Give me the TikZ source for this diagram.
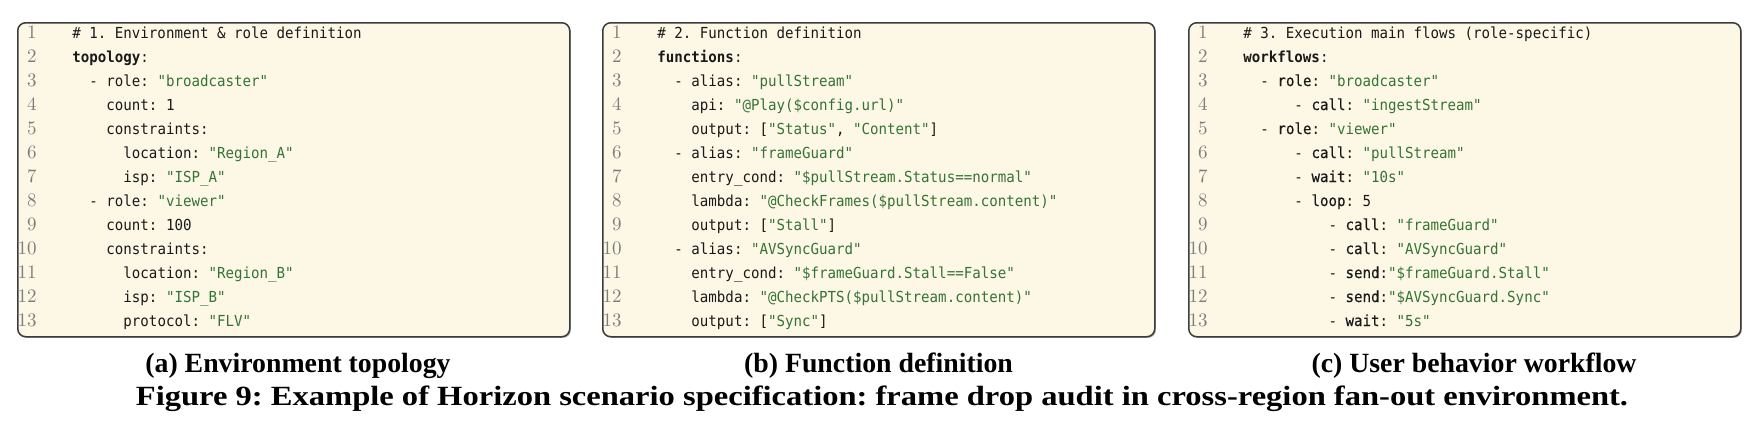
\documentclass[tikz,border=0pt]{standalone}
\usepackage{fontspec}
\usepackage{graphicx}
\usetikzlibrary{shadows}
\newfontfamily\codefont[FakeStretch=0.93]{DejaVu Sans Mono}
\newfontfamily\codesb[FakeStretch=0.93,FakeBold=0.4]{DejaVu Sans Mono}
\newfontfamily\capfont{Liberation Serif}
\definecolor{paper}{RGB}{253,247,230}
\definecolor{bordc}{RGB}{60,60,60}
\definecolor{strc}{RGB}{52,116,52}
\definecolor{codec}{RGB}{25,25,25}
\definecolor{lnc}{RGB}{125,125,125}
\newlength\cwid
\settowidth{\cwid}{\codefont\fontsize{7.6pt}{9pt}\selectfont x}
\newcommand\ind[1]{\hbox to #1\cwid{}}
\newcommand\q[1]{\textcolor{strc}{"#1"}}
\newcommand\kw[1]{{\codesb #1}}
\frenchspacing
\tikzset{
  panel/.style={draw=bordc, line width=0.75pt, fill=paper, rounded corners=4pt,
    minimum width=276pt, minimum height=157pt, anchor=north west, inner sep=0pt,
    drop shadow={shadow xshift=0.6pt, shadow yshift=-0.6pt, fill=black!50, opacity=0.6}},
  code/.style={anchor=base west, inner sep=0pt, text=codec,
    font=\codefont\fontsize{7.6pt}{9pt}\selectfont},
  lnum/.style={anchor=base east, inner sep=0pt, text=lnc,
    font=\fontsize{9.5pt}{10pt}\selectfont},
  subcap/.style={anchor=base, inner sep=0pt, text=black,
    font=\capfont\bfseries\fontsize{13.9pt}{16pt}\selectfont}
}
\begin{document}
\begin{tikzpicture}[x=0.5pt,y=-0.5pt]
\useasboundingbox (0,0) rectangle (1760,424);
% panels
\node[panel] (pa) at (17,22) {};
\node[panel] (pb) at (602,22) {};
\node[panel] (pc) at (1188,22) {};
% line numbers
\foreach \i in {1,...,13}{
  \node[lnum] (na\i) at (37,{38+24*(\i-1)}) {\i};
  \node[lnum] (nb\i) at (622,{38+24*(\i-1)}) {\i};
  \node[lnum] (nc\i) at (1208,{38+24*(\i-1)}) {\i};
}
% panel a
\node[code] (a1)  at (72,38)  {\# 1. Environment \& role definition};
\node[code] (a2)  at (72,62)  {{\bfseries topology}:};
\node[code] (a3)  at (72,86)  {\ind{2}- role: \q{broadcaster}};
\node[code] (a4)  at (72,110) {\ind{4}count: 1};
\node[code] (a5)  at (72,134) {\ind{4}constraints:};
\node[code] (a6)  at (72,158) {\ind{6}location: \q{Region\_A}};
\node[code] (a7)  at (72,182) {\ind{6}isp: \q{ISP\_A}};
\node[code] (a8)  at (72,206) {\ind{2}- role: \q{viewer}};
\node[code] (a9)  at (72,230) {\ind{4}count: 100};
\node[code] (a10) at (72,254) {\ind{4}constraints:};
\node[code] (a11) at (72,278) {\ind{6}location: \q{Region\_B}};
\node[code] (a12) at (72,302) {\ind{6}isp: \q{ISP\_B}};
\node[code] (a13) at (72,326) {\ind{6}protocol: \q{FLV}};
% panel b
\node[code] (b1)  at (657,38)  {\# 2. Function definition};
\node[code] (b2)  at (657,62)  {{\bfseries functions}:};
\node[code] (b3)  at (657,86)  {\ind{2}- alias: \q{pullStream}};
\node[code] (b4)  at (657,110) {\ind{4}api: \q{@Play(\$config.url)}};
\node[code] (b5)  at (657,134) {\ind{4}output: [\q{Status}, \q{Content}]};
\node[code] (b6)  at (657,158) {\ind{2}- alias: \q{frameGuard}};
\node[code] (b7)  at (657,182) {\ind{4}entry\_cond: \q{\$pullStream.Status==normal}};
\node[code] (b8)  at (657,206) {\ind{4}lambda: \q{@CheckFrames(\$pullStream.content)}};
\node[code] (b9)  at (657,230) {\ind{4}output: [\q{Stall}]};
\node[code] (b10) at (657,254) {\ind{2}- alias: \q{AVSyncGuard}};
\node[code] (b11) at (657,278) {\ind{4}entry\_cond: \q{\$frameGuard.Stall==False}};
\node[code] (b12) at (657,302) {\ind{4}lambda: \q{@CheckPTS(\$pullStream.content)}};
\node[code] (b13) at (657,326) {\ind{4}output: [\q{Sync}]};
% panel c
\node[code] (c1)  at (1243,38)  {\# 3. Execution main flows (role-specific)};
\node[code] (c2)  at (1243,62)  {{\bfseries workflows}:};
\node[code] (c3)  at (1243,86)  {\ind{2}- \kw{role}: \q{broadcaster}};
\node[code] (c4)  at (1243,110) {\ind{6}- \kw{call}: \q{ingestStream}};
\node[code] (c5)  at (1243,134) {\ind{2}- \kw{role}: \q{viewer}};
\node[code] (c6)  at (1243,158) {\ind{6}- \kw{call}: \q{pullStream}};
\node[code] (c7)  at (1243,182) {\ind{6}- \kw{wait}: \q{10s}};
\node[code] (c8)  at (1243,206) {\ind{6}- \kw{loop}: 5};
\node[code] (c9)  at (1243,230) {\ind{10}- \kw{call}: \q{frameGuard}};
\node[code] (c10) at (1243,254) {\ind{10}- \kw{call}: \q{AVSyncGuard}};
\node[code] (c11) at (1243,278) {\ind{10}- \kw{send}:\q{\$frameGuard.Stall}};
\node[code] (c12) at (1243,302) {\ind{10}- \kw{send}:\q{\$AVSyncGuard.Sync}};
\node[code] (c13) at (1243,326) {\ind{10}- \kw{wait}: \q{5s}};
% captions
\node[subcap] (capa) at (298,372)   {(a) Environment topology};
\node[subcap] (capb) at (878.5,372) {(b) Function definition};
\node[subcap] (capc) at (1474,372)  {(c) User behavior workflow};
\node[subcap] (fig)  at (882,405)   {\resizebox{746pt}{\height}{Figure 9: Example of Horizon scenario specification: frame drop audit in cross-region fan-out environment.}};
\end{tikzpicture}
\end{document}
